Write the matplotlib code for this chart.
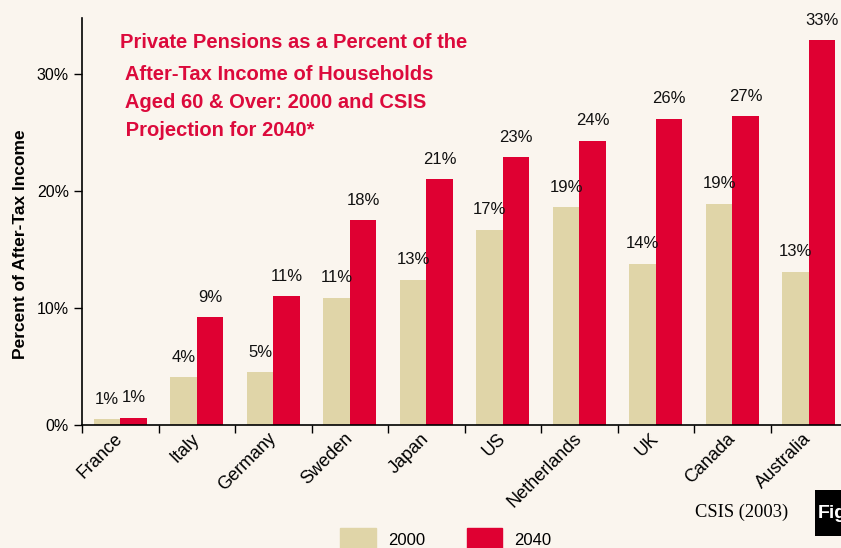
import numpy as np
import matplotlib.pyplot as plt
from matplotlib.patches import Patch, Rectangle

# Datos
paises = ['France', 'Italy', 'Germany', 'Sweden', 'Japan', 'US',
          'Netherlands', 'UK', 'Canada', 'Australia']
valores_2000 = [0.5, 4.1, 4.5, 10.9, 12.4, 16.7, 18.6, 13.8, 18.9, 13.1]
valores_2040 = [0.6, 9.2, 11.0, 17.5, 21.0, 22.9, 24.3, 26.2, 26.4, 32.9]
etiquetas_2000 = ['1%', '4%', '5%', '11%', '13%', '17%', '19%', '14%', '19%', '13%']
etiquetas_2040 = ['1%', '9%', '11%', '18%', '21%', '23%', '24%', '26%', '27%', '33%']
marcas_y = [0, 10, 20, 30]

fondo = '#FAF5EE'
beige = '#E0D5A8'
rojo = '#DF0032'

plt.rcParams['font.family'] = ['Liberation Sans', 'DejaVu Sans']

fig = plt.figure(figsize=(8.41, 5.48), dpi=100, facecolor=fondo)
ax = fig.add_axes([82 / 841, 123 / 548, 765 / 841, 407 / 548])
ax.set_facecolor(fondo)

x = np.arange(len(paises))
ancho = 0.346
b1 = ax.bar(x - ancho / 2, valores_2000, ancho, color=beige)
b2 = ax.bar(x + ancho / 2, valores_2040, ancho, color=rojo)

for barras, etiquetas in [(b1, etiquetas_2000), (b2, etiquetas_2040)]:
    for rect, txt in zip(barras, etiquetas):
        ax.annotate(txt, (rect.get_x() + rect.get_width() / 2, rect.get_height()),
                    xytext=(0, 9), textcoords='offset points',
                    ha='center', va='bottom', fontsize=12, color='#111111')

ax.set_xlim(-0.5, len(paises) - 0.5)
ax.set_ylim(0, 34.8)
ax.set_yticks(marcas_y)
ax.set_yticklabels([f'{v}%' for v in marcas_y], fontsize=11.5)
ax.set_xticks(np.arange(len(paises) + 1) - 0.5)
ax.set_xticklabels([])
ax.set_xticks(x, minor=True)
ax.set_xticklabels(paises, minor=True, rotation=45, ha='right', va='center',
                   rotation_mode='anchor', fontsize=13)
ax.tick_params(axis='x', which='minor', length=0, pad=8)
ax.tick_params(axis='both', which='major', length=6, width=1, direction='out')
for lado in ['top', 'right']:
    ax.spines[lado].set_visible(False)
ax.spines['left'].set_linewidth(1.2)
ax.spines['bottom'].set_linewidth(1.2)

ax.set_ylabel('Percent of After-Tax Income', fontsize=12.5, fontweight='bold')
ax.yaxis.set_label_coords(-0.0706, 0.445)

# Título dentro del gráfico
lineas = ['Private Pensions as a Percent of the',
          ' After-Tax Income of Households',
          ' Aged 60 & Over: 2000 and CSIS',
          ' Projection for 2040*']
ys = [43, 74, 102, 131]
for linea, yy in zip(lineas, ys):
    fig.text(120 / 841, 1 - yy / 548, linea, color='#DC0A3C', fontsize=14.5,
             fontweight='bold', va='center', ha='left')

# Leyenda en la parte inferior
fig.legend(handles=[Patch(color=beige, label='2000'), Patch(color=rojo, label='2040')],
           loc='upper left', bbox_to_anchor=(325 / 841, 1 - 513 / 548), ncol=2,
           frameon=False, fontsize=12, handlelength=2.15, handleheight=1.8,
           columnspacing=2.5, handletextpad=0.72)

fig.text(695 / 841, 1 - 512 / 548, 'CSIS (2003)', family='Liberation Serif',
         fontsize=13.3, va='center', ha='left')
fig.add_artist(Rectangle((815 / 841, 1 - 536 / 548), 40 / 841, 46 / 548,
                         transform=fig.transFigure, facecolor='black',
                         edgecolor='none'))
fig.text(818 / 841, 1 - 514 / 548, 'Fig', color='white', fontsize=14,
         fontweight='bold', va='center', ha='left')

fig.savefig('out.png', dpi=100, facecolor=fondo)
